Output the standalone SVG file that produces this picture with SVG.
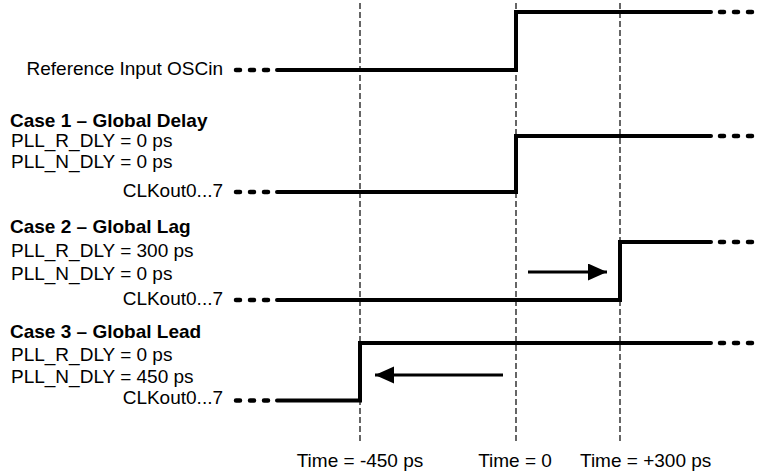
<svg xmlns="http://www.w3.org/2000/svg" width="759" height="473" viewBox="0 0 759 473">
<style>
text{font-family:"Liberation Sans",Arial,sans-serif;font-size:19px;fill:#000}
.b{font-weight:bold}
.e{text-anchor:end}
.m{text-anchor:middle}
.sig{fill:none;stroke:#000;stroke-width:4;stroke-linecap:round;stroke-linejoin:miter}
.dots{fill:none;stroke:#000;stroke-width:4.5;stroke-linecap:round;stroke-dasharray:4 10}
.grid{fill:none;stroke:#000;stroke-width:1.2;stroke-dasharray:6 3}
.arr{fill:none;stroke:#000;stroke-width:3}
</style>
<defs>
<marker id="ah" markerUnits="userSpaceOnUse" markerWidth="20" markerHeight="18" refX="19" refY="8.5" orient="auto">
<path d="M0,0 L19,8.5 L0,17 z" fill="#000"/>
</marker>
</defs>
<g id="gridlines">
<line class="grid" x1="360" y1="3" x2="360" y2="442"/>
<line class="grid" x1="516" y1="3" x2="516" y2="442"/>
<line class="grid" x1="620" y1="3" x2="620" y2="442"/>
</g>
<g id="ref">
<text class="e" x="223" y="75">Reference Input OSCin</text>
<path class="dots" d="M236,70 H268"/>
<path class="sig" d="M277,70 H516 V12 H711"/>
<path class="dots" d="M720,12 H752"/>
</g>
<g id="case1">
<text class="b" x="10" y="127">Case 1 – Global Delay</text>
<text x="11" y="147">PLL_R_DLY = 0 ps</text>
<text x="11" y="168">PLL_N_DLY = 0 ps</text>
<text class="e" x="223" y="197">CLKout0...7</text>
<path class="dots" d="M236,192 H268"/>
<path class="sig" d="M277,192 H516 V136 H711"/>
<path class="dots" d="M720,136 H752"/>
</g>
<g id="case2">
<text class="b" x="10" y="233">Case 2 – Global Lag</text>
<text x="11" y="257">PLL_R_DLY = 300 ps</text>
<text x="11" y="280">PLL_N_DLY = 0 ps</text>
<text class="e" x="223" y="305">CLKout0...7</text>
<path class="dots" d="M236,300 H268"/>
<path class="sig" d="M277,300 H620 V242 H711"/>
<path class="dots" d="M720,242 H752"/>
</g>
<g id="case3">
<text class="b" x="10" y="338">Case 3 – Global Lead</text>
<text x="11" y="361">PLL_R_DLY = 0 ps</text>
<text x="11" y="383">PLL_N_DLY = 450 ps</text>
<text class="e" x="223" y="404">CLKout0...7</text>
<path class="dots" d="M236,400.5 H268"/>
<path class="sig" d="M277,400.5 H360 V343 H711"/>
<path class="dots" d="M720,343 H752"/>
</g>
<g id="connectors">
<line class="arr" x1="528" y1="272" x2="607" y2="272" marker-end="url(#ah)"/>
<line class="arr" x1="503" y1="375" x2="375" y2="375" marker-end="url(#ah)"/>
</g>
<g id="timelabels">
<text class="m" x="360" y="467">Time = -450 ps</text>
<text class="m" x="515" y="467">Time = 0</text>
<text x="580" y="467">Time = +300 ps</text>
</g>
</svg>
